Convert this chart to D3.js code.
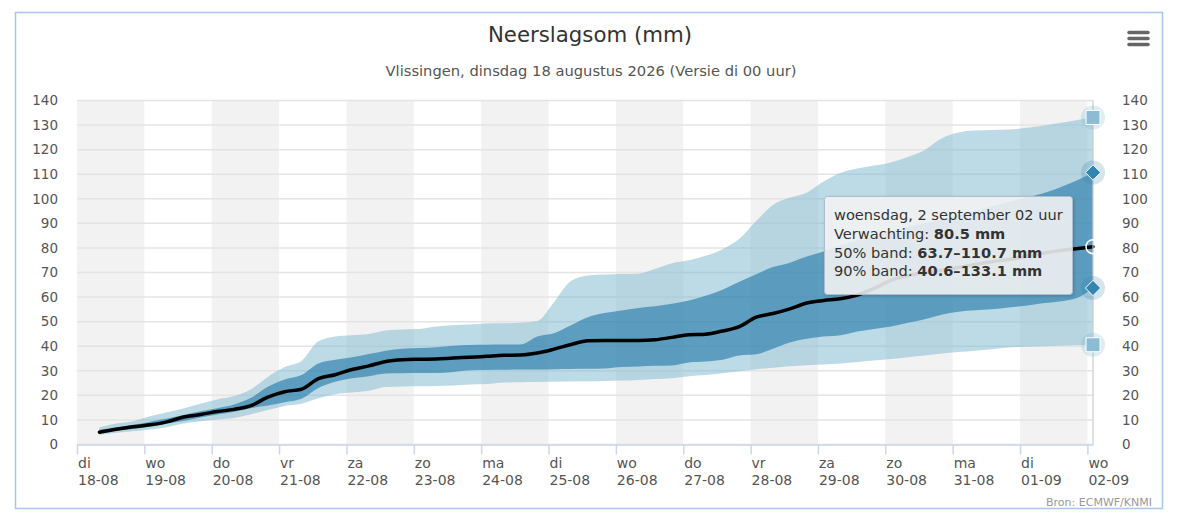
<!DOCTYPE html>
<html>
<head>
<meta charset="utf-8">
<script src="https://cdn.jsdelivr.net/npm/d3@7"></script>
<style>
  body { margin: 0; background: #fff; }
  text { font-family: "DejaVu Sans", Verdana, sans-serif; }
</style>
</head>
<body>
<script>
const width = 1178;
const height = 520;

// hours after 18-08 00:00 (local time), 6-hourly steps
const hours = [8, 14, 20, 26, 32, 38, 44, 50, 56, 62,
  68, 74, 80, 86, 92, 98, 104, 110, 116, 122,
  128, 134, 140, 146, 152, 158, 164, 170, 176, 182,
  188, 194, 200, 206, 212, 218, 224, 230, 236, 242,
  248, 254, 260, 266, 272, 278, 284, 290, 296, 302,
  308, 314, 320, 326, 332, 338, 344, 350, 356, 362];

// verwachting (median)
const median = [5.0, 6.2, 7.2, 8.0, 9.2, 11.2, 12.2, 13.4, 14.3, 15.8,
  19.3, 21.5, 22.5, 26.8, 28.4, 30.5, 32.0, 33.8, 34.5, 34.7,
  34.8, 35.2, 35.5, 35.9, 36.3, 36.4, 37.2, 38.8, 40.7, 42.2,
  42.3, 42.3, 42.3, 42.6, 43.6, 44.7, 44.9, 46.2, 48.0, 51.8,
  53.3, 55.2, 57.6, 58.6, 59.3, 60.8, 63.5, 66.8, 68.8, 69.9,
  70.9, 72.0, 73.3, 74.4, 75.3, 76.4, 77.8, 78.9, 79.7, 80.5];

// 50% band
const p25 = [4.8, 5.7, 6.3, 7.2, 8.5, 9.6, 11.0, 12.2, 13.3, 14.8,
  15.9, 17.2, 18.6, 23.0, 25.5, 27.0, 27.8, 28.9, 29.0, 29.1,
  29.1, 29.5, 30.2, 30.3, 30.4, 30.5, 30.5, 30.6, 30.7, 30.8,
  30.9, 31.5, 31.7, 32.0, 32.2, 33.4, 33.8, 34.5, 36.2, 36.7,
  39.0, 41.5, 43.0, 44.0, 44.5, 46.0, 47.0, 48.0, 49.5, 51.0,
  52.8, 54.0, 54.6, 55.0, 55.8, 56.5, 57.5, 58.2, 59.5, 63.7];
const p75 = [6.0, 7.0, 8.0, 9.3, 10.6, 12.0, 13.5, 14.8, 16.3, 19.0,
  23.5, 26.5, 28.3, 33.0, 34.5, 35.5, 36.8, 38.2, 39.0, 39.3,
  39.6, 40.2, 40.5, 40.6, 40.7, 40.7, 44.0, 45.3, 48.5, 51.8,
  53.5, 54.5, 55.6, 56.3, 57.3, 58.6, 60.5, 63.0, 66.2, 69.3,
  72.2, 74.0, 76.5, 78.5, 81.0, 83.0, 84.8, 86.7, 88.5, 90.0,
  91.6, 93.3, 95.0, 97.0, 98.8, 100.5, 102.2, 104.5, 107.3, 110.7];

// 90% band
const p05 = [4.0, 4.8, 5.4, 6.1, 7.0, 8.5, 9.5, 10.2, 10.8, 12.3,
  14.0, 15.7, 16.6, 18.8, 20.5, 21.2, 21.9, 23.4, 23.6, 23.7,
  23.8, 24.0, 24.4, 24.6, 25.2, 25.3, 25.4, 25.5, 25.6, 25.7,
  25.8, 26.0, 26.3, 26.7, 27.0, 27.8, 28.3, 29.0, 29.8, 30.6,
  31.2, 31.8, 32.3, 32.6, 33.0, 33.6, 34.2, 34.8, 35.5, 36.2,
  37.0, 37.6, 38.2, 38.8, 39.5, 39.8, 40.0, 40.2, 40.4, 40.6];
const p95 = [7.0, 8.5, 9.5, 11.5, 13.1, 14.7, 16.6, 18.3, 19.7, 22.5,
  27.5, 31.5, 34.0, 42.0, 44.0, 44.5, 45.0, 46.4, 46.8, 47.0,
  48.0, 48.5, 48.8, 49.2, 49.3, 49.6, 50.3, 58.0, 66.5, 68.8,
  69.2, 69.4, 69.5, 71.5, 73.8, 75.0, 76.8, 79.5, 83.7, 91.0,
  97.5, 100.5, 102.5, 107.0, 110.5, 112.3, 113.5, 114.8, 117.0, 119.8,
  124.5, 127.0, 127.8, 128.0, 128.2, 128.8, 129.7, 130.8, 132.0, 133.1];

// axis labels
const dayNames = ["di", "wo", "do", "vr", "za", "zo", "ma", "di", "wo", "do", "vr", "za", "zo", "ma", "di", "wo"];
const dayDates = ["18-08", "19-08", "20-08", "21-08", "22-08", "23-08", "24-08", "25-08",
  "26-08", "27-08", "28-08", "29-08", "30-08", "31-08", "01-09", "02-09"];
const yTicks = [0, 10, 20, 30, 40, 50, 60, 70, 80, 90, 100, 110, 120, 130, 140];

const tooltipLines = [
  ["woensdag, 2 september 02 uur", ""],
  ["Verwachting: ", "80.5 mm"],
  ["50% band: ", "63.7\u2013110.7 mm"],
  ["90% band: ", "40.6\u2013133.1 mm"]
];

const start = new Date(2026, 7, 18, 0);
const at = h => new Date(start.getTime() + h * 3600e3);

const data = hours.map((h, i) => ({
  t: at(h), med: median[i], lo50: p25[i], hi50: p75[i], lo90: p05[i], hi90: p95[i]
}));
const days = dayNames.map((d, i) => at(i * 24));

const plotL = 77, plotR = 1093, plotT = 100.5, plotB = 444.5;

const x = d3.scaleTime()
  .domain([start, at(362)])
  .range([plotL, plotR]);
const y = d3.scaleLinear()
  .domain([0, 140])
  .range([plotB, plotT]);

const svg = d3.select("body")
  .append("svg")
  .attr("width", width)
  .attr("height", height);

// outer border
svg.append("rect")
  .attr("x", 15.5).attr("y", 12.5)
  .attr("width", 1147).attr("height", 496)
  .attr("fill", "#fff")
  .attr("stroke", "#a6c6f0")
  .attr("stroke-width", 1.5);

// title + subtitle
svg.append("text")
  .attr("x", 590).attr("y", 42)
  .attr("text-anchor", "middle")
  .attr("font-size", 21.3)
  .attr("fill", "#333")
  .text("Neerslagsom (mm)");
svg.append("text")
  .attr("x", 591).attr("y", 76)
  .attr("text-anchor", "middle")
  .attr("font-size", 14.7)
  .attr("fill", "#555")
  .text("Vlissingen, dinsdag 18 augustus 2026 (Versie di 00 uur)");

// menu icon
svg.append("g")
  .selectAll("line")
  .data([32.5, 38.5, 44.5])
  .join("line")
  .attr("x1", 1129).attr("x2", 1148)
  .attr("y1", d => d).attr("y2", d => d)
  .attr("stroke", "#666")
  .attr("stroke-width", 3.5)
  .attr("stroke-linecap", "round");

// alternating day bands
svg.append("g")
  .selectAll("rect")
  .data(days.filter((d, i) => i % 2 === 0))
  .join("rect")
  .attr("x", d => x(d))
  .attr("y", plotT)
  .attr("width", d => Math.min(x(d3.timeDay.offset(d, 1)), plotR) - x(d))
  .attr("height", plotB - plotT)
  .attr("fill", "#f2f2f2");

// gridlines
svg.append("g")
  .selectAll("line")
  .data(yTicks)
  .join("line")
  .attr("x1", plotL).attr("x2", plotR)
  .attr("y1", d => y(d)).attr("y2", d => y(d))
  .attr("stroke", "#e4e4e4")
  .attr("stroke-width", 1.5);

// bands
const area = (lo, hi) => d3.area()
  .x(d => x(d.t))
  .y0(d => y(d[lo]))
  .y1(d => y(d[hi]))
  .curve(d3.curveMonotoneX);

svg.append("path")
  .datum(data)
  .attr("d", area("lo90", "hi90"))
  .attr("fill", "rgb(124,181,208)")
  .attr("fill-opacity", 0.5);

svg.append("path")
  .datum(data)
  .attr("d", area("lo50", "hi50"))
  .attr("fill", "rgb(40,125,170)")
  .attr("fill-opacity", 0.65);

// median line
svg.append("path")
  .datum(data)
  .attr("d", d3.line().x(d => x(d.t)).y(d => y(d.med)).curve(d3.curveMonotoneX))
  .attr("fill", "none")
  .attr("stroke", "#000")
  .attr("stroke-width", 3.5)
  .attr("stroke-linecap", "round")
  .attr("stroke-linejoin", "round");

// axes
const yLeft = svg.append("g")
  .attr("transform", `translate(${plotL},0)`)
  .call(d3.axisLeft(y).tickValues(yTicks).tickSize(0).tickPadding(19));
const yRight = svg.append("g")
  .attr("transform", `translate(${plotR},0)`)
  .call(d3.axisRight(y).tickValues(yTicks).tickSize(0).tickPadding(29));
[yLeft, yRight].forEach(g => {
  g.select(".domain").remove();
  g.selectAll("text")
    .attr("font-family", "DejaVu Sans, Verdana, sans-serif")
    .attr("font-size", 13.5)
    .attr("fill", "#555");
});

const xAxis = svg.append("g")
  .attr("transform", `translate(0,${plotB})`)
  .call(d3.axisBottom(x).tickValues(days).tickSize(10).tickSizeOuter(0).tickFormat(""));
xAxis.select(".domain").attr("stroke", "#ccd6eb").attr("stroke-width", 1.5);
xAxis.selectAll(".tick line").attr("stroke", "#ccd6eb").attr("stroke-width", 1.5);

const xLab = svg.append("g")
  .selectAll("text")
  .data(days)
  .join("text")
  .attr("x", d => x(d) + 1)
  .attr("y", 468)
  .attr("font-size", 14)
  .attr("fill", "#555");
xLab.append("tspan").text((d, i) => dayNames[i]);
xLab.append("tspan")
  .attr("x", d => x(d) + 1)
  .attr("dy", 17)
  .text((d, i) => dayDates[i]);

// crosshair + markers at hovered point
const last = data[data.length - 1];
const cx = x(last.t);
svg.append("line")
  .attr("x1", cx).attr("x2", cx)
  .attr("y1", plotT).attr("y2", plotB)
  .attr("stroke", "#ccc")
  .attr("stroke-opacity", 0.8)
  .attr("stroke-width", 1.5);

const mk = svg.append("g");
[last.hi90, last.lo90].forEach(v => {
  mk.append("circle").attr("cx", cx).attr("cy", y(v)).attr("r", 12)
    .attr("fill", "rgb(124,181,208)").attr("fill-opacity", 0.25);
  mk.append("rect").attr("x", cx - 7).attr("y", y(v) - 7)
    .attr("width", 14).attr("height", 14)
    .attr("fill", "rgb(140,188,212)").attr("stroke", "#fff");
});
[last.hi50, last.lo50].forEach(v => {
  mk.append("circle").attr("cx", cx).attr("cy", y(v)).attr("r", 12)
    .attr("fill", "rgb(40,125,170)").attr("fill-opacity", 0.2);
  mk.append("path")
    .attr("d", d3.symbol(d3.symbolDiamond2, 150)())
    .attr("transform", `translate(${cx},${y(v)})`)
    .attr("fill", "rgb(52,134,178)").attr("stroke", "#fff");
});
mk.append("circle").attr("cx", cx).attr("cy", y(last.med)).attr("r", 7)
  .attr("fill", "none").attr("stroke", "#fff").attr("stroke-width", 1.5);

// tooltip
const defs = svg.append("defs");
const f = defs.append("filter").attr("id", "shadow").attr("x", "-10%").attr("y", "-10%")
  .attr("width", "130%").attr("height", "130%");
f.append("feDropShadow").attr("dx", 1).attr("dy", 1).attr("stdDeviation", 1.5)
  .attr("flood-color", "#000").attr("flood-opacity", 0.2);

const tip = svg.append("g");
tip.append("rect")
  .attr("x", 824.5).attr("y", 196.5)
  .attr("width", 248).attr("height", 98)
  .attr("rx", 3)
  .attr("fill", "rgba(247,247,247,0.85)")
  .attr("stroke", "#aebdc9")
  .attr("filter", "url(#shadow)");
const tt = tip.selectAll("text")
  .data(tooltipLines)
  .join("text")
  .attr("x", 834)
  .attr("y", (d, i) => 220 + i * 18.8)
  .attr("font-size", 14.6)
  .attr("fill", "#333");
tt.append("tspan").text(d => d[0]);
tt.append("tspan").attr("font-weight", "bold").text(d => d[1]);

// credits
svg.append("text")
  .attr("x", 1152).attr("y", 506)
  .attr("text-anchor", "end")
  .attr("font-size", 11)
  .attr("fill", "#999")
  .text("Bron: ECMWF/KNMI");
</script>
</body>
</html>
